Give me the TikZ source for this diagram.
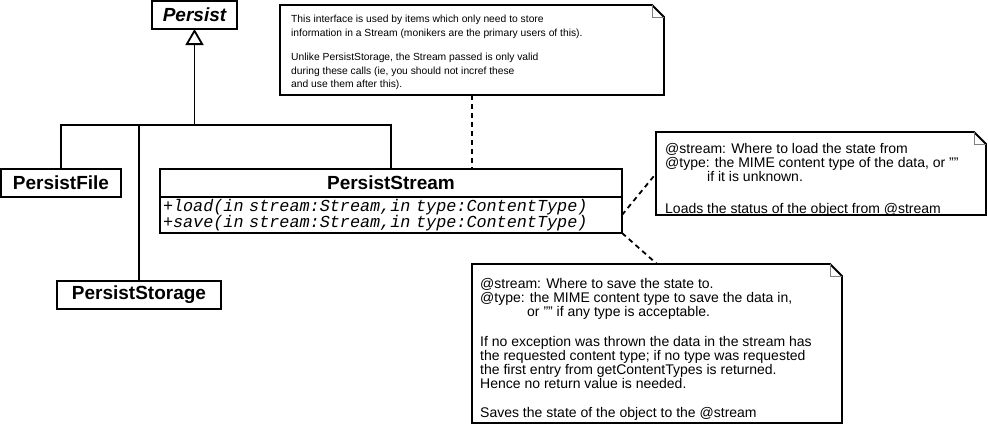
\documentclass[tikz,border=0pt]{standalone}
\usepackage{fontspec}
\setmainfont{Liberation Sans}
\setmonofont{Liberation Mono}
\usetikzlibrary{calc,positioning,arrows.meta}

\def\fold{12pt}
\newcommand{\dogear}[1]{%
  \draw[line width=1.8pt, fill=white] (#1.north west) -- ([xshift=-\fold]#1.north east) --
    ([yshift=-\fold]#1.north east) -- (#1.south east) -- (#1.south west) -- cycle;
  \draw[gray, line width=1pt] ([xshift=-\fold]#1.north east) |- ([yshift=-\fold]#1.north east);
}

\tikzset{
  classbox/.style={draw, line width=1.8pt, fill=white, inner sep=0pt, outer sep=0pt,
    minimum height=28, font=\fontsize{19}{19}\selectfont\bfseries},
  opsbox/.style={draw, line width=1.8pt, fill=white, inner xsep=3pt, inner ysep=0pt, outer sep=0pt,
    minimum height=36, align=left, font=\fontsize{16.8}{15}\selectfont\ttfamily\itshape},
  inherit/.style={line width=1.8pt},
  generalize/.style={line width=1.8pt, -{Triangle[open, length=16pt, width=18pt]}},
  notebox/.style={inner sep=0pt, outer sep=0pt, anchor=north west},
  notetext/.style={anchor=north west, align=left, inner sep=0pt},
  notelink/.style={line width=1.8pt, dash pattern=on 5pt off 4pt},
}

\begin{document}
\begin{tikzpicture}[x=1pt, y=-1pt]
    \useasboundingbox (0,0) rectangle (988,424);

    % classes
    \node[classbox, minimum width=85] (persist) at (194.5,15) {\itshape Persist};
    \node[classbox, minimum width=120] (file) at (61,183) {PersistFile};
    \node[classbox, minimum width=164] (storage) at (139,295) {PersistStorage};
    \node[classbox, minimum width=462] (streamname) at (391,183) {PersistStream};
    \node[opsbox, text width=456pt, below=0pt of streamname] (streamops)
      {+load(in stream:Stream,in type:ContentType)\\+save(in stream:Stream,in type:ContentType)};

    % generalization
    \coordinate (bus) at (194.5,125);
    \draw[generalize] (bus) -- (persist);
    \draw[inherit] (file.north) |- (bus) -| (streamname.north);
    \draw[inherit] (storage.north) -- (storage.north |- bus);

    % notes
    \node[notebox, minimum width=384, minimum height=90] (note1) at (280,5) {};
    \node[notebox, minimum width=330, minimum height=83] (note2) at (656,132) {};
    \node[notebox, minimum width=370, minimum height=159] (note3) at (472,264) {};

    \draw[notelink] (note1.south) -- (note1.south |- streamname.north);
    \draw[notelink] (streamops.east) -- (note2.west);
    \draw[notelink] (streamops.south east) -- (note3.north);

    \dogear{note1}
    \dogear{note2}
    \dogear{note3}

    \node[notetext, font=\fontsize{10.3}{13.5}\selectfont] (note1txt) at ($(note1.north west)+(11,10)$)
      {This interface is used by items which only need to store\\
       information in a Stream (monikers are the primary users of this).\\[11pt]
       Unlike PersistStorage, the Stream passed is only valid\\
       during these calls (ie, you should not incref these\\
       and use them after this).};
    \node[notetext, font=\fontsize{14}{14}\selectfont] (note2txt) at ($(note2.north west)+(9,11)$)
      {@stream: Where to load the state from\\
       @type: the MIME content type of the data, or ""\\
       \hspace*{42pt}if it is unknown.\\[18pt]
       Loads the status of the object from @stream};
    \node[notetext, font=\fontsize{14}{14}\selectfont] (note3txt) at ($(note3.north west)+(8,14)$)
      {@stream: Where to save the state to.\\
       @type: the MIME content type to save the data in,\\
       \hspace*{47pt}or "" if any type is acceptable.\\[16pt]
       If no exception was thrown the data in the stream has\\
       the requested content type; if no type was requested\\
       the first entry from getContentTypes is returned.\\
       Hence no return value is needed.\\[15pt]
       Saves the state of the object to the @stream};
\end{tikzpicture}
\end{document}
